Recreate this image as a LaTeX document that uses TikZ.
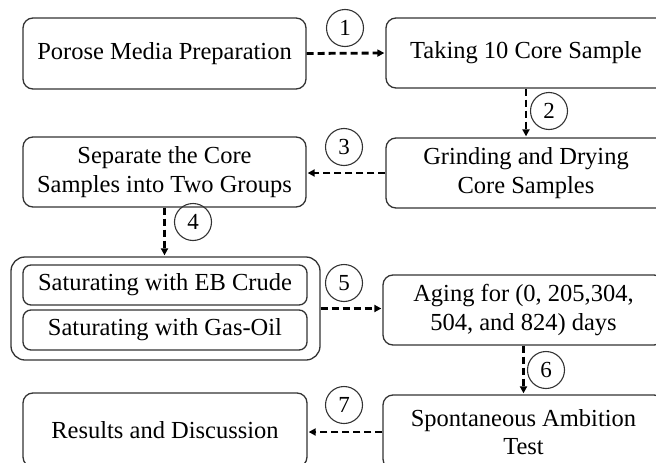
\documentclass[tikz,border=0pt]{standalone}
\usepackage{fontspec}
\setmainfont{Liberation Serif}
\usetikzlibrary{arrows.meta}
\begin{document}
\begin{tikzpicture}[x=1pt,y=-1pt,
  box/.style={draw=black!80, line width=1.3pt, rounded corners=10pt, inner sep=0pt,
    align=center, font=\fontsize{24.5}{28.5}\selectfont},
  num/.style={draw=black!80, line width=1.1pt, circle, minimum size=37pt, inner sep=0pt,
    font=\fontsize{23}{26}\selectfont},
  flow/.style={line width=2.8pt, dash pattern=on 7pt off 4pt,
    -{Triangle[length=7pt,width=7pt]}, shorten >=1pt}
]
\useasboundingbox (0,0) rectangle (656,463);
\clip (0,0) rectangle (656,463);
\node[box, minimum width=283pt, minimum height=71pt] (porose) at (164.5,53.5) {Porose Media Preparation};
\node[box, minimum width=280pt, minimum height=70pt] (taking) at (526,53) {Taking 10 Core Sample};
\node[box, minimum width=280pt, minimum height=70pt] (grinding) at (526,173) {Grinding and Drying\\Core Samples};
\node[box, minimum width=283pt, minimum height=70pt] (separate) at (164.5,172) {Separate the Core\\Samples into Two Groups};
\node[box, minimum width=309pt, minimum height=103pt, rounded corners=14pt] (group) at (165.5,308.5) {};
\node[box, minimum width=284pt, minimum height=40pt, rounded corners=8pt] (eb) at (165,285) {Saturating with EB Crude};
\node[box, minimum width=284pt, minimum height=40pt, rounded corners=8pt] (gas) at (165,330) {Saturating with Gas-Oil};
\node[box, minimum width=281pt, minimum height=70pt] (aging) at (523.5,310) {Aging for (0, 205,304,\\504, and 824) days};
\node[box, minimum width=281pt, minimum height=74pt] (spont) at (523.5,432) {Spontaneous Ambition\\Test};
\node[box, minimum width=284pt, minimum height=74pt] (results) at (165,430) {Results and Discussion};

\node[num] (c1) at (345,28) {1};
\node[num] (c2) at (549,111) {2};
\node[num] (c3) at (344,147) {3};
\node[num] (c4) at (193,222) {4};
\node[num] (c5) at (344,283) {5};
\node[num] (c6) at (546,370) {6};
\node[num] (c7) at (344,405) {7};

\draw[flow] (porose.east) -- (taking.west);
\draw[flow] (taking.south) -- (grinding.north);
\draw[flow] (grinding.west) -- (grinding.west -| separate.east);
\draw[flow] (separate.south) -- (separate.south |- group.north);
\draw[flow] (group.east) -- (group.east -| aging.west);
\draw[flow] (aging.south) -- (aging.south |- spont.north);
\draw[flow] (spont.west) -- (spont.west -| results.east);
\end{tikzpicture}
\end{document}
